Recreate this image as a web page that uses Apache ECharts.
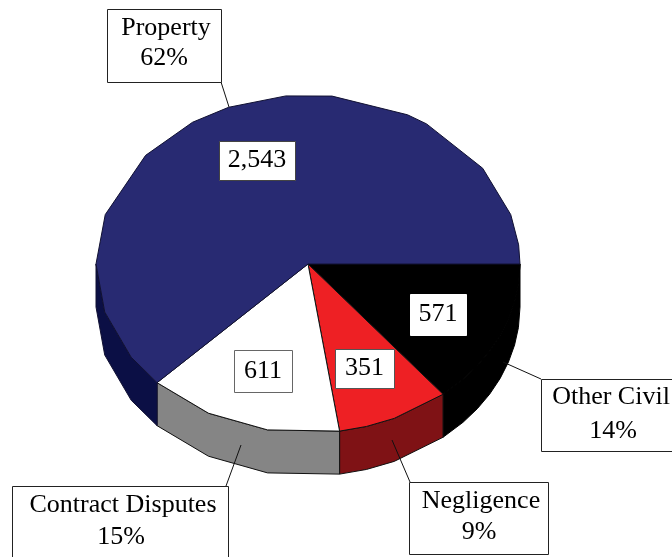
<!DOCTYPE html>
<html>
<head>
<meta charset="utf-8">
<style>
html, body { margin: 0; padding: 0; background: #fff; overflow: hidden; }
#chart { width: 672px; height: 557px; }
</style>
<script src="https://cdn.jsdelivr.net/npm/echarts@6/dist/echarts.min.js"></script>
</head>
<body>
<div id="chart"></div>
<script>
const categories = ['Other Civil', 'Negligence', 'Contract Disputes', 'Property'];
const cases = [571, 351, 611, 2543];

const topColors = ['#000000', '#ee2024', '#ffffff', '#282a72'];
const wallColors = ['#000000', '#7f1215', '#858585', '#0b0f45'];
const edgeColors = ['#000000', '#111111', '#111111', '#111133'];

// pie shape on the page
const cx = 308, cy = 264, rx = 212, ry = 169, depth = 43;
// the original outline is faceted, these are its corners (deg clockwise from 3 o'clock)
const facets = [7, 13, 19, 25, 31, 37, 43, 66, 74, 101, 118, 146.5, 163.5, 180, 197, 220, 237, 248, 264, 276.5, 298, 304, 325.5, 343, 353.5];

// name box [x1, y1, x2, y2], leader [x1, y1, x2, y2], centre x of each text line and line centres
const nameBoxes = [
    { box: [541, 379, 690, 451], line: [503, 362, 541, 379], tx: [611, 613], ty: [397, 431] },
    { box: [409, 482, 548, 554], line: [392, 440, 410, 482], tx: [481, 479], ty: [501, 532] },
    { box: [12, 486, 228, 570], line: [241, 445, 226, 486], tx: [123, 121], ty: [505, 537] },
    { box: [107, 9, 221, 82], line: [221, 82, 229, 107], tx: [166, 164], ty: [28, 58] }
];
// value box [x1, y1, x2, y2], its border colour and text centre y
const valueBoxes = [
    { box: [410, 294, 466, 335], border: '#ffffff', ty: 314 },
    { box: [335, 349, 394, 388], border: '#555555', ty: 368 },
    { box: [234, 350, 292, 392], border: '#666666', ty: 371 },
    { box: [219, 141, 295, 180], border: '#444444', ty: 160 }
];

const total = cases.reduce((a, b) => a + b, 0);
const fontFamily = '"Liberation Serif", serif';

function pt(deg, dy) {
    const a = deg * Math.PI / 180;
    return [cx + rx * Math.cos(a), cy + ry * Math.sin(a) + (dy || 0)];
}

// rim points between two angles, facet corners included
function rim(from, to, dy) {
    const pts = [pt(from, dy)];
    facets.forEach(function (f) {
        if (f > from && f < to) pts.push(pt(f, dy));
    });
    pts.push(pt(to, dy));
    return pts;
}

function sliceAngles(i) {
    let sum = 0;
    for (let k = 0; k < i; k++) sum += cases[k];
    return [sum / total * 360, (sum + cases[i]) / total * 360];
}

function renderSlice(params, api) {
    const i = params.dataIndex;
    const a = sliceAngles(i);
    const children = [];
    // only the front half of the rim shows a wall
    const wallEnd = Math.min(a[1], 180);
    if (a[0] < 180) {
        const top = rim(a[0], wallEnd, 0);
        const bottom = rim(a[0], wallEnd, depth).reverse();
        children.push({
            type: 'polygon',
            shape: { points: top.concat(bottom) },
            style: { fill: wallColors[i], stroke: edgeColors[i], lineWidth: 1 }
        });
    }
    children.push({
        type: 'polygon',
        shape: { points: [[cx, cy]].concat(rim(a[0], a[1], 0)) },
        style: { fill: topColors[i], stroke: edgeColors[i], lineWidth: 1 }
    });
    return { type: 'group', children: children };
}

function boxRect(b, stroke) {
    return {
        type: 'rect',
        shape: { x: b[0] + 0.5, y: b[1] + 0.5, width: b[2] - b[0], height: b[3] - b[1] },
        style: { fill: '#ffffff', stroke: stroke, lineWidth: 1 }
    };
}

function boxText(str, x, y) {
    return {
        type: 'text',
        style: {
            text: str, x: x, y: y, fill: '#000000',
            font: '26px ' + fontFamily,
            align: 'center', verticalAlign: 'middle'
        }
    };
}

function renderLabel(params, api) {
    const i = params.dataIndex;
    const n = nameBoxes[i], v = valueBoxes[i];
    const pct = Math.round(api.value(0) / total * 100) + '%';
    return {
        type: 'group',
        children: [
            {
                type: 'line',
                shape: { x1: n.line[0], y1: n.line[1], x2: n.line[2], y2: n.line[3] },
                style: { stroke: '#111111', lineWidth: 1 }
            },
            boxRect(n.box, '#222222'),
            boxText(categories[i], n.tx[0], n.ty[0]),
            boxText(pct, n.tx[1], n.ty[1]),
            boxRect(v.box, v.border),
            boxText(api.value(0).toLocaleString('en-US'), (v.box[0] + v.box[2]) / 2, v.ty)
        ]
    };
}

var dom = document.getElementById('chart');
var myChart = echarts.init(dom, null, { renderer: 'canvas' });

var option = {
    animation: false,
    backgroundColor: '#ffffff',
    series: [
        {
            type: 'custom',
            coordinateSystem: 'none',
            z: 1,
            renderItem: renderSlice,
            data: cases.map(v => [v])
        },
        {
            type: 'custom',
            coordinateSystem: 'none',
            z: 2,
            renderItem: renderLabel,
            data: cases.map(v => [v])
        }
    ]
};

myChart.setOption(option);
window.addEventListener('resize', myChart.resize);
</script>
</body>
</html>
